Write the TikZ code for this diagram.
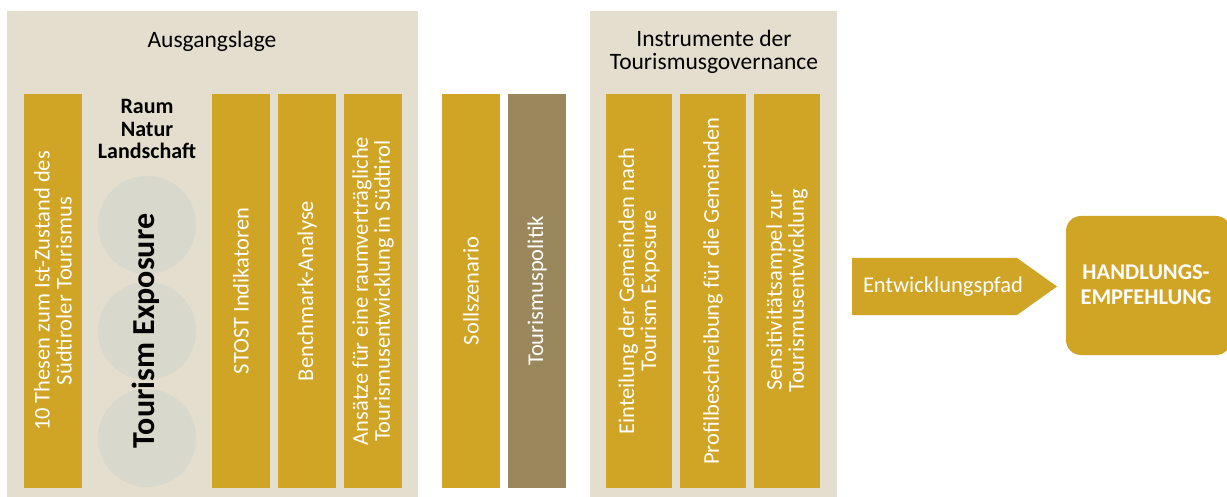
\documentclass[tikz,border=0pt]{standalone}
\usepackage{fontspec}
\setmainfont{Carlito}
\begin{document}
\definecolor{gold}{RGB}{208,164,36}
\definecolor{olive}{RGB}{154,135,92}
\definecolor{panel}{RGB}{227,222,206}
\definecolor{disc}{RGB}{216,216,204}
\begin{tikzpicture}[x=1pt,y=-1pt,
  panelbox/.style={fill=panel,draw=none},
  bar/.style={fill=gold,draw=none},
  bartext/.style={rotate=90,text=white,font=\fontsize{22.5}{22}\selectfont,align=center,inner sep=0pt},
  heading/.style={text=black,font=\fontsize{23.5}{22.5}\selectfont,align=center,inner sep=0pt},
  disc/.style={fill=disc,draw=none}]
\useasboundingbox (0,0) rectangle (1227,497);
% background panels
\fill[panelbox] (7,11) rectangle (418,497);
\fill[panelbox] (590,11) rectangle (837,497);
\node[heading] (hA) at (212,41) {Ausgangslage};
\node[heading] (hI) at (714,52) {Instrumente der\\Tourismusgovernance};
% exposure discs
\fill[disc] (147,225) circle (49);
\fill[disc] (147,331) circle (49);
\fill[disc] (147,438) circle (49);
\node[font=\bfseries\fontsize{22}{22.5}\selectfont,align=center,inner sep=0pt] (rnl) at (147,129) {Raum\\Natur\\Landschaft};
\node[rotate=90,font=\bfseries\fontsize{32}{34}\selectfont,inner sep=0pt] (te) at (146,331) {Tourism Exposure};
% bars
\fill[bar] (24,94) rectangle (82,488);
\node[bartext] (b1) at (53,291) {10 Thesen zum Ist-Zustand des\\Südtiroler Tourismus};
\fill[bar] (212,94) rectangle (270,488);
\node[bartext] (b2) at (241,291) {STOST Indikatoren};
\fill[bar] (278,94) rectangle (336,488);
\node[bartext] (b3) at (307,291) {Benchmark-Analyse};
\fill[bar] (344,94) rectangle (402,488);
\node[bartext] (b4) at (373,291) {Ansätze für eine raumverträgliche\\Tourismusentwicklung in Südtirol};
\fill[bar] (442,94) rectangle (500,488);
\node[bartext] (b5) at (471,291) {Sollszenario};
\fill[olive] (508,94) rectangle (566,488);
\node[bartext] (b6) at (537,291) {Tourismuspolitik};
\fill[bar] (606,94) rectangle (672,488);
\node[bartext] (b7) at (639,291) {Einteilung der Gemeinden nach\\Tourism Exposure};
\fill[bar] (680,94) rectangle (746,488);
\node[bartext] (b8) at (713,291) {Profilbeschreibung für die Gemeinden};
\fill[bar] (754,94) rectangle (820,488);
\node[bartext] (b9) at (787,291) {Sensitivitätsampel zur\\Tourismusentwicklung};
% path arrow and recommendation box
\fill[gold] (852,258) -- (1017,258) -- (1057,286.5) -- (1017,315) -- (852,315) -- cycle;
\node[text=white,font=\fontsize{22.5}{22}\selectfont,inner sep=0pt] (ep) at (943,287) {Entwicklungspfad};
\fill[gold,rounded corners=15pt] (1066,216) rectangle (1231,355);
\node[text=white,font=\bfseries\fontsize{22.5}{25}\selectfont,align=center,inner sep=0pt] (he) at (1146,285) {HANDLUNGS-\\EMPFEHLUNG};
\end{tikzpicture}
\end{document}
